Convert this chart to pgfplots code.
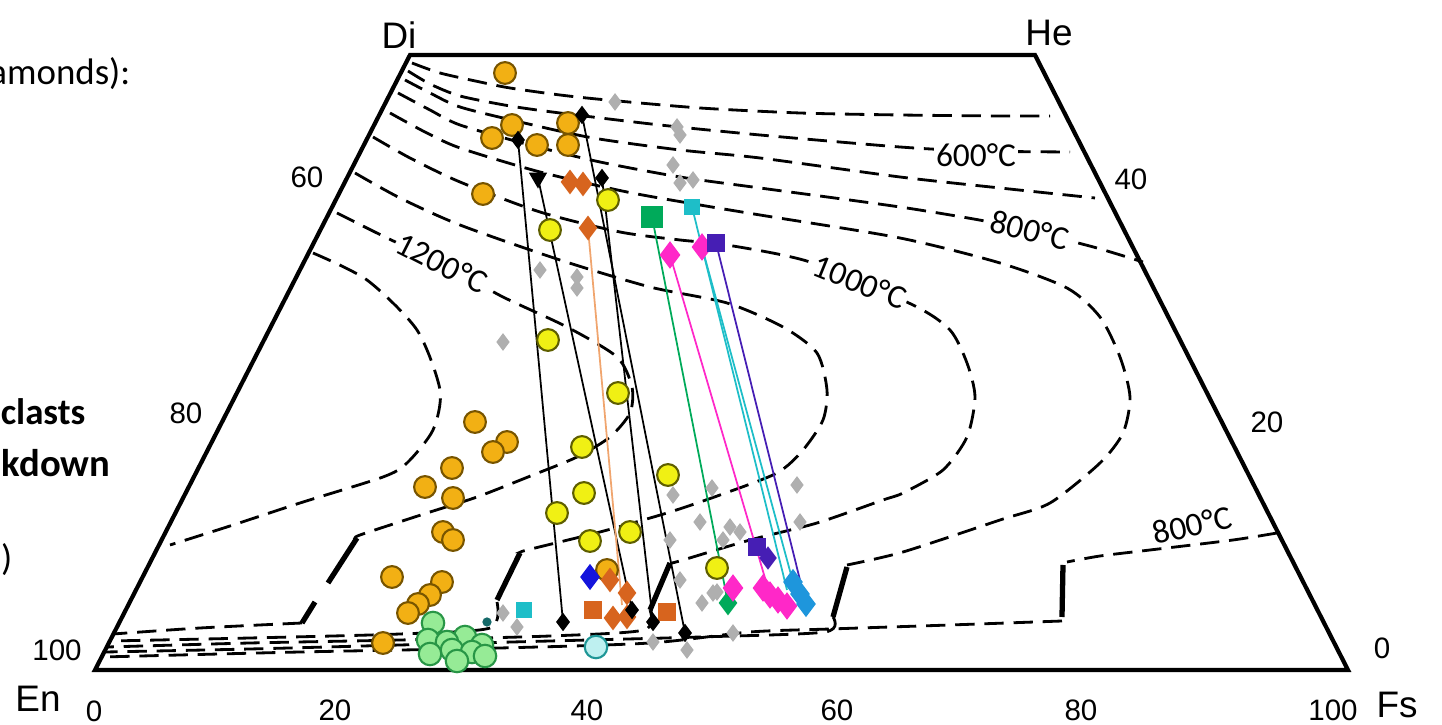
\documentclass[border=0pt]{standalone}
\usepackage{pgfplots}
\pgfplotsset{compat=1.18}
\usepackage{fontspec}
\setmainfont{Liberation Sans}
\newfontfamily\calfont{Carlito}
\definecolor{orF}{RGB}{242,176,20}
\definecolor{orD}{RGB}{120,85,0}
\definecolor{yeF}{RGB}{240,240,20}
\definecolor{yeD}{RGB}{95,95,0}
\definecolor{grF}{RGB}{150,235,150}
\definecolor{grD}{RGB}{40,150,70}
\definecolor{lcF}{RGB}{190,240,240}
\definecolor{lcD}{RGB}{30,150,150}
\definecolor{dor}{RGB}{215,100,30}
\definecolor{lor}{RGB}{240,165,110}
\definecolor{gsq}{RGB}{0,170,90}
\definecolor{csq}{RGB}{30,190,200}
\definecolor{mag}{RGB}{255,40,200}
\definecolor{ind}{RGB}{70,30,180}
\definecolor{blu}{RGB}{20,20,220}
\definecolor{sky}{RGB}{30,150,220}
\definecolor{gry}{RGB}{175,175,175}
\tikzset{
  num/.style={font=\fontsize{8.4}{10}\selectfont},
  big/.style={font=\fontsize{10.5}{12}\selectfont},
  tl/.style={font=\calfont\fontsize{9.5}{11}\selectfont, fill=white, inner sep=0.6pt}}
\begin{document}
\begin{tikzpicture}
\useasboundingbox (0,0) rectangle (144.2mm,72.5mm);
\begin{axis}[at={(0,0)}, anchor=south west, scale only axis,
  width=144.2mm, height=72.5mm, xmin=0, xmax=1442, ymin=0, ymax=725,
  y dir=reverse, hide axis, clip=false,
  iso/.style={black, line width=0.8pt, dash pattern=on 5.5pt off 2.8pt, smooth, tension=0.45, mark=none},
  stp/.style={black, line width=1.5pt, mark=none},
  tie/.style={line width=0.5pt, mark=none}]

% frame
\addplot[black, line width=1.2pt, mark=none] coordinates {(95,670)(410,55)(1035,55)(1348,670)(95,670)(410,55)};

% upper isotherms
\addplot[iso] coordinates {(412,63)(440,73)(480,82)(510,88)(560,95)(607,100)(700,108)(800,113)(900,115)(1000,116)(1050,116)};
\addplot[iso] coordinates {(408,71)(430,84)(460,96)(510,106)(560,113)(660,125)(760,135)(900,147)(976,151)(1070,152)};
\addplot[iso] coordinates {(405,80)(430,93)(460,107)(520,122)(593,138)(680,150)(760,158)(900,177)(1000,188)(1095,198)};
\addplot[iso] coordinates {(398,93)(430,110)(460,125)(530,145)(600,162)(680,177)(760,188)(900,207)(990,222)(1050,236)(1097,248)(1143,262)};
\addplot[iso] coordinates {(390,113)(425,132)(460,148)(540,172)(627,192)(700,205)(760,215)(900,238)(1000,263)(1067,288)(1100,317)(1120,357)(1130,397)(1123,433)(1100,463)(1050,503)(1000,520)(903,552)(847,565)};
\addplot[iso] coordinates {(373,137)(410,158)(460,182)(540,212)(620,232)(680,240)(727,245)(810,262)(913,305)(950,330)(967,363)(975,397)(967,437)(943,470)(903,493)(883,500)(817,523)(750,540)(683,560)(672,563)};
\addplot[iso] coordinates {(355,173)(400,198)(460,225)(560,260)(650,287)(727,303)(783,327)(817,353)(827,390)(823,420)(803,450)(777,473)(720,495)(667,513)(600,532)(527,550)(522,552)};
\addplot[iso] coordinates {(337,213)(385,237)(450,268)(503,297)(567,327)(617,357)(632,387)(630,413)(610,437)(577,457)(533,475)(477,497)(427,513)(360,535)(357,538)};
\addplot[iso] coordinates {(313,253)(367,280)(417,330)(440,390)(433,430)(407,463)(383,477)(300,503)(230,526)(170,545)};
% lower right 800
\addplot[iso] coordinates {(1277,533)(1233,540)(1150,550)(1100,556)(1067,562)};

% steps
\addplot[stp] coordinates {(357,538)(328,583)};
\addplot[stp] coordinates {(315,602)(302,623)};
\addplot[stp] coordinates {(520,553)(497,600)};
\addplot[stp] coordinates {(670,563)(650,610)};
\addplot[stp] coordinates {(847,567)(833,617)};
\addplot[stp] coordinates {(1063,565)(1062,617)};

% low-Ca isotherms
\addplot[iso] coordinates {(302,623)(200,628)(113,634)};
\addplot[iso] coordinates {(497,602)(490,628)(400,634)(250,638)(111,641)};
\addplot[iso] coordinates {(650,610)(644,630)(550,636)(400,640)(250,643)(108,647)};
\addplot[iso] coordinates {(833,617)(825,632)(700,637)(550,641)(400,645)(250,649)(106,652)};
\addplot[iso] coordinates {(1062,621)(950,625)(830,629)(750,632)(650,643)(500,648)(300,652)(103,657)};

% isotherm labels
\node[tl] at (976,155) {600°C};
\node[tl, rotate=-14] at (1030,230) {800°C};
\node[tl, rotate=-22] at (860,282) {1000°C};
\node[tl, rotate=-27] at (442,263) {1200°C};
\node[font=\calfont\fontsize{9.5}{11}\selectfont, rotate=13] at (1192,525) {800°C};

% tie lines
\addplot[tie, black] coordinates {(518,140)(563,622)};
\addplot[tie, black] coordinates {(538,178)(632,610)};
\addplot[tie, black] coordinates {(582,115)(685,633)};
\addplot[tie, black] coordinates {(602,178)(653,622)};
\addplot[tie, lor] coordinates {(588,228)(622,605)};
\addplot[tie, gsq] coordinates {(652,217)(728,603)};
\addplot[tie, mag] coordinates {(670,255)(770,595)};
\addplot[tie, csq] coordinates {(692,207)(787,590)};
\addplot[tie, csq] coordinates {(702,247)(793,582)};
\addplot[tie, ind] coordinates {(716,243)(806,604)};

% gray diamonds
\addplot[only marks, mark=diamond*, mark size=2.2pt, mark options={fill=gry, draw=gry}] coordinates {
(615,102)(677,127)(680,135)(673,165)(680,183)(693,180)(540,270)(577,277)(577,288)(503,342)
(673,495)(797,485)(712,488)(700,522)(730,527)(740,532)(800,522)(723,540)(670,540)(680,580)
(702,603)(717,592)(503,613)(517,627)(653,642)(687,650)(733,633)(713,593)};

% orange circles
\addplot[only marks, mark=*, mark size=3.1pt, mark options={fill=orF, draw=orD, line width=0.6pt}] coordinates {
(505,73)(512,125)(492,138)(537,145)(568,123)(568,145)(483,194)
(475,422)(507,442)(493,452)(452,468)(425,487)(453,498)(443,532)(453,540)
(392,577)(442,582)(430,595)(418,604)(408,613)(383,643)(607,570)};

% yellow circles
\addplot[only marks, mark=*, mark size=3.1pt, mark options={fill=yeF, draw=yeD, line width=0.6pt}] coordinates {
(608,200)(550,230)(548,340)(618,393)(582,447)(668,475)(584,493)(557,513)(630,532)(590,541)(717,568)};

% green circles
\addplot[only marks, mark=*, mark size=3.2pt, mark options={fill=grF, draw=grD, line width=0.6pt}] coordinates {
(433,623)(465,637)(428,640)(447,642)(482,645)(452,650)(472,652)(430,654)(485,656)(457,661)};
\addplot[only marks, mark=*, mark size=1.1pt, mark options={fill=lcD!70!black, draw=lcD!70!black}] coordinates {(487,622)};

% light cyan circle
\addplot[only marks, mark=*, mark size=3.2pt, mark options={fill=lcF, draw=lcD, line width=0.6pt}] coordinates {(596,647)};

% dark orange
\addplot[only marks, mark=diamond*, mark size=3.2pt, mark options={fill=dor, draw=dor}] coordinates {
(570,182)(583,184)(588,228)(610,580)(627,593)(613,618)(627,617)};
\addplot[only marks, mark=square*, mark size=2.4pt, mark options={fill=dor, draw=dor}] coordinates {(593,610)(667,612)};

% green
\addplot[only marks, mark=square*, mark size=2.8pt, mark options={fill=gsq, draw=gsq}] coordinates {(652,217)};
\addplot[only marks, mark=diamond*, mark size=3.2pt, mark options={fill=gsq, draw=gsq}] coordinates {(728,603)};

% cyan squares
\addplot[only marks, mark=square*, mark size=2.2pt, mark options={fill=csq, draw=csq}] coordinates {(692,207)(524,610)};

% magenta
\addplot[only marks, mark=diamond*, mark size=3.6pt, mark options={fill=mag, draw=mag}] coordinates {
(670,255)(702,247)(733,588)(763,588)(770,595)(778,600)(787,606)};

% indigo
\addplot[only marks, mark=square*, mark size=2.3pt, mark options={fill=ind, draw=ind}] coordinates {(716,243)(757,547)};
\addplot[only marks, mark=diamond*, mark size=3pt, mark options={fill=ind, draw=ind}] coordinates {(768,558)};

% blue
\addplot[only marks, mark=diamond*, mark size=3.4pt, mark options={fill=blu, draw=blu}] coordinates {(590,577)};

% sky blue
\addplot[only marks, mark=diamond*, mark size=3.4pt, mark options={fill=sky, draw=sky}] coordinates {(793,582)(800,594)(806,604)};

% black diamonds and triangle
\addplot[only marks, mark=diamond*, mark size=2.3pt, mark options={fill=black, draw=black}] coordinates {
(518,140)(582,115)(602,178)(563,622)(632,610)(653,622)(685,633)};
\addplot[only marks, mark=triangle*, mark size=2.6pt, mark options={fill=black, draw=black, rotate=180}] coordinates {(538,178)};

% corner and tick labels
\node[big] at (399,35) {Di};
\node[big] at (1049,33) {He};
\node[big] at (38,699) {En};
\node[big] at (1397,705) {Fs};
\node[num] at (94,711) {0};
\node[num] at (335,710) {20};
\node[num] at (587,710) {40};
\node[num] at (837,710) {60};
\node[num] at (1081,710) {80};
\node[num] at (1333,710) {100};
\node[num] at (307,177) {60};
\node[num] at (186,413) {80};
\node[num] at (57,650) {100};
\node[num] at (1131,179) {40};
\node[num] at (1267,422) {20};
\node[num] at (1382,648) {0};

% legend text, cut by the left edge as in the reference
\node[anchor=base east, inner sep=0pt, font=\calfont\fontsize{10.5}{12}\selectfont] at (131,85) {amonds):};
\node[anchor=base east, inner sep=0pt, font=\calfont\bfseries\fontsize{10.5}{12}\selectfont] at (86,425) {clasts};
\node[anchor=base east, inner sep=0pt, font=\calfont\bfseries\fontsize{11}{12}\selectfont] at (111,477) {eakdown};
\node[anchor=base east, inner sep=0pt, font=\calfont\fontsize{10.5}{12}\selectfont] at (13,571) {3)};
\end{axis}
\end{tikzpicture}
\end{document}
